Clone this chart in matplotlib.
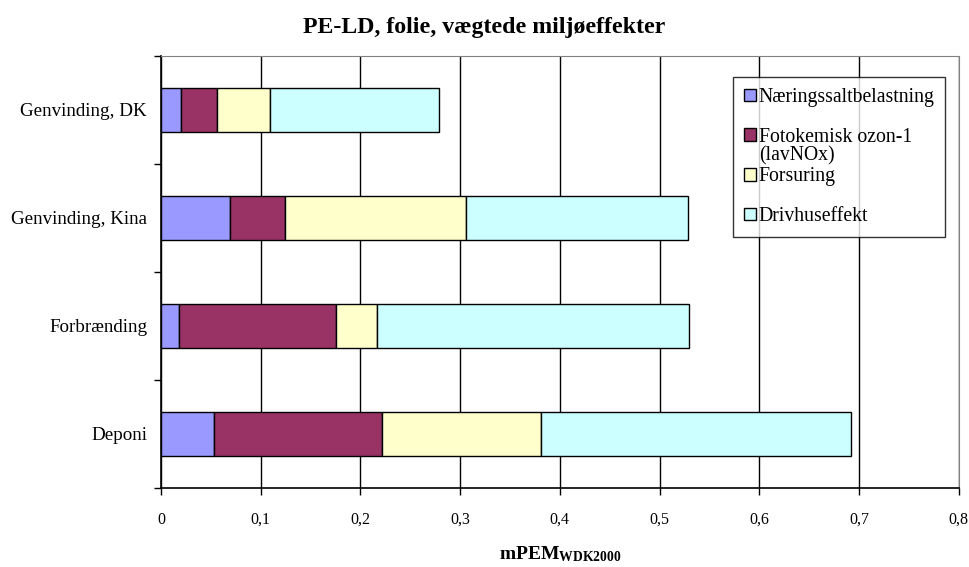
import matplotlib
matplotlib.use("Agg")
import matplotlib.pyplot as plt
import numpy as np

categories = ["Deponi", "Forbrænding", "Genvinding, Kina", "Genvinding, DK"]
series_names = ["Næringssaltbelastning", "Fotokemisk ozon-1", "Forsuring", "Drivhuseffekt"]
foto_second_line = "(lavNOx)"
naering = [0.053, 0.018, 0.069, 0.020]
fotokemisk = [0.169, 0.158, 0.055, 0.036]
forsuring = [0.159, 0.041, 0.182, 0.053]
drivhus = [0.311, 0.313, 0.223, 0.170]
colors = ["#9999FF", "#993366", "#FFFFCC", "#CCFFFF"]
x_ticks = [0, 0.1, 0.2, 0.3, 0.4, 0.5, 0.6, 0.7, 0.8]
x_tick_labels = ["0", "0,1", "0,2", "0,3", "0,4", "0,5", "0,6", "0,7", "0,8"]
title = "PE-LD, folie, vægtede miljøeffekter"

plt.rcParams['font.family'] = ['Liberation Serif', 'DejaVu Serif']
plt.rcParams['mathtext.fontset'] = 'custom'
plt.rcParams['mathtext.rm'] = 'Liberation Serif'
plt.rcParams['mathtext.bf'] = 'Liberation Serif:bold'

fig = plt.figure(figsize=(9.69, 5.67), dpi=100)
ax = fig.add_axes([161/969, 1 - 488/567, (958.6 - 161)/969, (488 - 56)/567])

y = np.arange(len(categories))
left = np.zeros(len(categories))
for vals, name, col in zip([naering, fotokemisk, forsuring, drivhus], series_names, colors):
    ax.barh(y, vals, left=left, height=0.4, color=col, edgecolor="black",
            linewidth=1.0, label=name, zorder=3)
    left += np.array(vals)

ax.set_xlim(0, 0.8)
ax.set_ylim(-0.5, len(categories) - 0.5)
ax.set_xticks(x_ticks)
ax.set_xticklabels(x_tick_labels, fontsize=11.5)
ax.set_yticks(y)
ax.set_yticklabels(categories, fontsize=13.7)
ax.set_yticks(np.arange(len(categories) + 1) - 0.5, minor=True)
ax.tick_params(axis='y', which='major', length=0, pad=10)
ax.tick_params(axis='y', which='minor', length=5, width=1, direction='out')
ax.tick_params(axis='x', which='major', length=5, width=1, direction='out', pad=12)
ax.xaxis.grid(True, color="black", linewidth=1.0, zorder=0)
ax.set_axisbelow(True)
for s in ["top", "right"]:
    ax.spines[s].set_color("#808080")
for s in ["left", "bottom"]:
    ax.spines[s].set_linewidth(1.2)

fig.text(484.5/969, 1 - 27/567, title, ha="center", va="center", fontsize=17.2, fontweight="bold")
ax.set_xlabel(r"$\mathbf{mPEM_{WDK2000}}$", fontsize=14, labelpad=12)

handles, labels = ax.get_legend_handles_labels()
leg = ax.legend(handles, labels, loc="upper left",
                bbox_to_anchor=((733 - 161)/(958.6 - 161), 1 - (77 - 56)/432),
                fontsize=14.2, frameon=True, fancybox=False, edgecolor="black",
                handlelength=0.6, handleheight=0.6, handletextpad=0.15,
                labelspacing=1.05, borderpad=0.55, borderaxespad=0)
leg.get_frame().set_linewidth(1.0)
foto_text = leg.get_texts()[1]
ax.annotate(foto_second_line, xy=(0, 0), xycoords=foto_text,
            xytext=(0, 0.5), textcoords="offset points",
            ha="left", va="top", fontsize=14.2, zorder=10)

fig.savefig("out.png", dpi=100)
